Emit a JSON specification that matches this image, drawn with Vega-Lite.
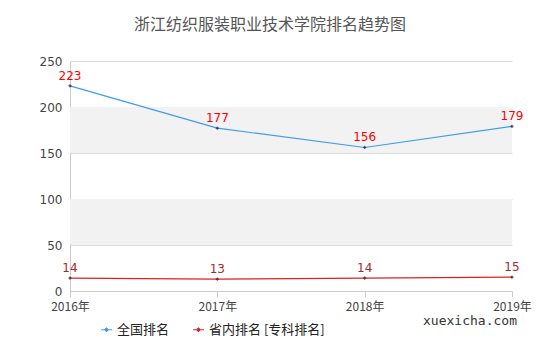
{
  "$schema": "https://vega.github.io/schema/vega-lite/v6.json",
  "width": 442,
  "height": 230,
  "autosize": {"type": "none"},
  "padding": {"left": 70, "top": 61, "right": 28, "bottom": 69},
  "background": "white",
  "config": {
    "font": "Noto Sans CJK SC",
    "view": {"stroke": null}
  },
  "title": {
    "text": "浙江纺织服装职业技术学院排名趋势图",
    "fontSize": 16,
    "fontWeight": "normal",
    "color": "#555555",
    "anchor": "middle",
    "dx": -21,
    "offset": 22
  },
  "datasets": {
    "ranks": [
      {"year": "2016年", "series": "全国排名", "rank": 223},
      {"year": "2017年", "series": "全国排名", "rank": 177},
      {"year": "2018年", "series": "全国排名", "rank": 156},
      {"year": "2019年", "series": "全国排名", "rank": 179},
      {"year": "2016年", "series": "省内排名 [专科排名]", "rank": 14},
      {"year": "2017年", "series": "省内排名 [专科排名]", "rank": 13},
      {"year": "2018年", "series": "省内排名 [专科排名]", "rank": 14},
      {"year": "2019年", "series": "省内排名 [专科排名]", "rank": 15}
    ],
    "bands": [
      {"lo": 50, "hi": 100},
      {"lo": 150, "hi": 200}
    ]
  },
  "layer": [
    {
      "data": {"name": "bands"},
      "mark": {"type": "rect", "color": "#f2f2f2"},
      "encoding": {
        "y": {"field": "lo", "type": "quantitative", "scale": {"domain": [0, 250], "nice": false}},
        "y2": {"field": "hi"}
      }
    },
    {
      "data": {"name": "ranks"},
      "mark": {"type": "line", "strokeWidth": 1.2},
      "encoding": {
        "x": {
          "field": "year", "type": "ordinal",
          "scale": {"type": "point", "padding": 0},
          "axis": {
            "title": null, "labelAngle": 0, "labelFontSize": 12, "labelColor": "#444444",
            "domainColor": "#cccccc", "tickColor": "#cccccc", "tickSize": 6, "labelPadding": 4,
            "grid": false
          }
        },
        "y": {
          "field": "rank", "type": "quantitative",
          "scale": {"domain": [0, 250], "nice": false},
          "axis": {
            "title": null, "values": [0, 50, 100, 150, 200, 250], "labelFontSize": 12,
            "labelColor": "#444444", "domainColor": "#cccccc", "ticks": false,
            "gridColor": "#dddddd", "labelPadding": 8, "labelFont": "DejaVu Sans"
          }
        },
        "color": {
          "field": "series", "type": "nominal",
          "scale": {"domain": ["全国排名", "省内排名 [专科排名]"], "range": ["#3d9cf0", "#e02020"]},
          "legend": {
            "title": null, "orient": "none", "direction": "horizontal",
            "legendX": 30, "legendY": 262,
            "symbolType": "M-1,0H1M-0.3,0L0,-0.3L0.3,0L0,0.3Z",
            "symbolFillColor": "#222222",
            "symbolSize": 120,
            "symbolStrokeWidth": 1.2, "labelFontSize": 13, "labelColor": "#222222",
            "columnPadding": 20
          }
        }
      }
    },
    {
      "data": {"name": "ranks"},
      "mark": {"type": "point", "shape": "diamond", "filled": true, "size": 14, "color": "#222222"},
      "encoding": {
        "x": {"field": "year", "type": "ordinal"},
        "y": {"field": "rank", "type": "quantitative"}
      }
    },
    {
      "data": {"name": "ranks"},
      "mark": {"type": "text", "dy": -10, "fontSize": 12, "font": "DejaVu Sans"},
      "encoding": {
        "x": {"field": "year", "type": "ordinal"},
        "y": {"field": "rank", "type": "quantitative"},
        "text": {"field": "rank"},
        "color": {
          "condition": {"test": "datum.series === '全国排名'", "value": "#ff0000"},
          "value": "#a52a2a"
        }
      }
    },
    {
      "data": {"values": [{"year": "2019年", "rank": 0, "label": "xuexicha.com"}]},
      "mark": {"type": "text", "dy": 30, "dx": -42, "fontSize": 13, "color": "#333333", "font": "DejaVu Sans Mono"},
      "encoding": {
        "x": {"field": "year", "type": "ordinal"},
        "y": {"field": "rank", "type": "quantitative"},
        "text": {"field": "label"}
      }
    }
  ]
}
